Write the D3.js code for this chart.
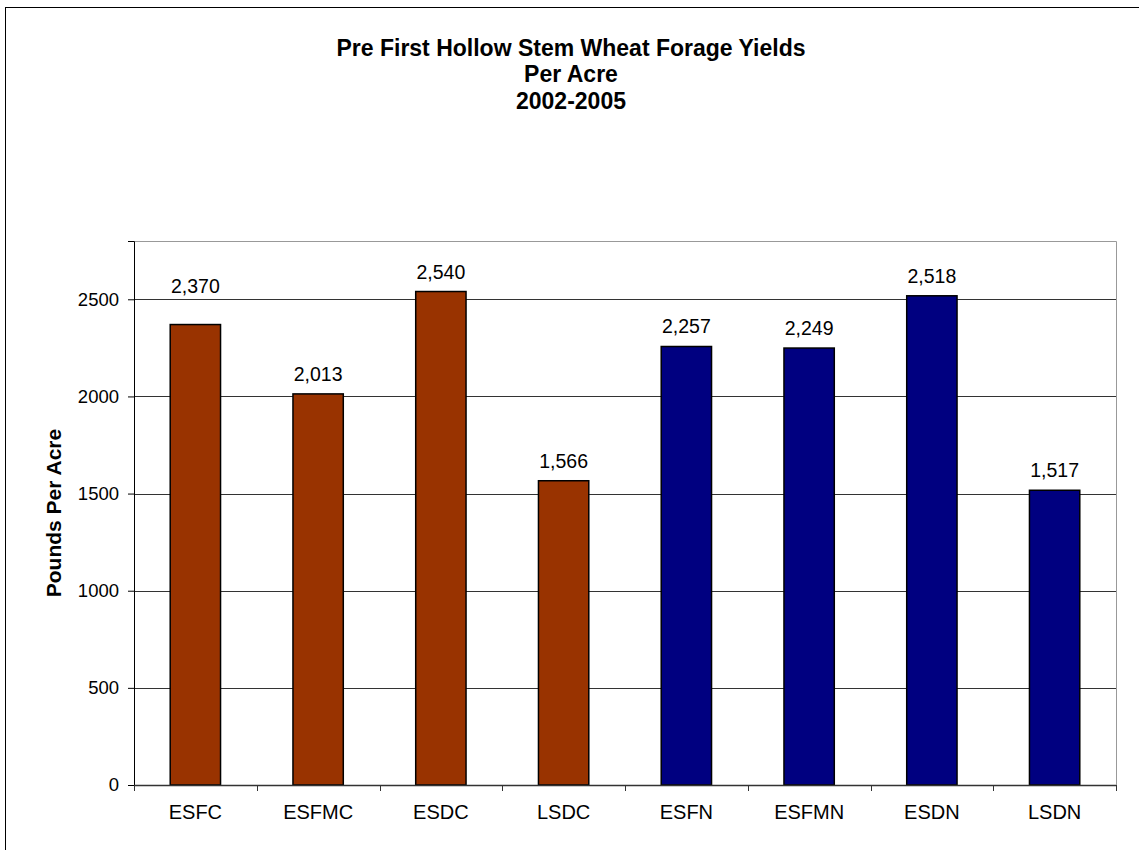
<!DOCTYPE html>
<html>
<head>
<meta charset="utf-8">
<script src="https://cdn.jsdelivr.net/npm/d3@7"></script>
<style>
  body { margin: 0; background: #fff; }
  text { font-family: "Liberation Sans", Arial, sans-serif; fill: #000; }
</style>
</head>
<body>
<div id="chart"></div>
<script>
// chart data
var categories = ["ESFC", "ESFMC", "ESDC", "LSDC", "ESFN", "ESFMN", "ESDN", "LSDN"];
var yields = [2370, 2013, 2540, 1566, 2257, 2249, 2518, 1517];
var barColors = ["#993300", "#993300", "#993300", "#993300", "#000080", "#000080", "#000080", "#000080"];
var yTicks = [0, 500, 1000, 1500, 2000, 2500];
var titleLines = ["Pre First Hollow Stem Wheat Forage Yields", "Per Acre", "2002-2005"];

var svgWidth = 1139;
var svgHeight = 850;

var margin = {
    top: 241,
    bottom: 65,
    left: 134,
    right: 23
};

var width = svgWidth - margin.left - margin.right;
var height = svgHeight - margin.top - margin.bottom;

// the ESFC label sits higher than the others in the original
var labelLift = { ESFC: 19 };

var svg = d3.select("#chart")
    .append("svg")
    .attr("width", svgWidth)
    .attr("height", svgHeight);

// outer chart border (right/bottom run off the page)
svg.append("rect")
    .attr("x", 5.5)
    .attr("y", 7.5)
    .attr("width", svgWidth)
    .attr("height", svgHeight)
    .attr("fill", "none")
    .attr("stroke", "#000")
    .attr("stroke-width", 1);

var title = svg.append("text")
    .attr("text-anchor", "middle")
    .style("font-size", "23px")
    .style("font-weight", "bold");

title.selectAll("tspan")
    .data(titleLines)
    .enter()
    .append("tspan")
    .attr("x", 571)
    .attr("y", (d, i) => 55.5 + i * 26.5)
    .text(d => d);

var chartGroup = svg.append("g")
    .attr("transform", `translate(${margin.left}, ${margin.top})`);

var xScale = d3.scaleBand()
    .domain(categories)
    .range([0, width]);

var yScale = d3.scaleLinear()
    .domain([0, 2800])
    .range([height, 0]);

// plot frame top/right
chartGroup.append("path")
    .attr("d", `M0.5,0.5H${width + 0.5}V${height}`)
    .attr("fill", "none")
    .attr("stroke", "#999")
    .attr("stroke-width", 1);

// gridlines
chartGroup.selectAll(".grid")
    .data(yTicks.filter(d => d > 0))
    .enter()
    .append("line")
    .attr("class", "grid")
    .attr("x1", 0)
    .attr("x2", width)
    .attr("y1", d => Math.round(yScale(d)) + 0.5)
    .attr("y2", d => Math.round(yScale(d)) + 0.5)
    .attr("stroke", "#333")
    .attr("stroke-width", 1);

var barWidth = xScale.bandwidth() * 0.41;

chartGroup.selectAll("rect.bar")
    .data(yields)
    .enter()
    .append("rect")
    .attr("class", "bar")
    .attr("x", (d, i) => xScale(categories[i]) + (xScale.bandwidth() - barWidth) / 2)
    .attr("y", d => yScale(d))
    .attr("width", barWidth)
    .attr("height", d => height - yScale(d))
    .attr("fill", (d, i) => barColors[i])
    .attr("stroke", "#000")
    .attr("stroke-width", 1.5);

chartGroup.selectAll(".valueLabel")
    .data(yields)
    .enter()
    .append("text")
    .attr("class", "valueLabel")
    .attr("x", (d, i) => xScale(categories[i]) + xScale.bandwidth() / 2)
    .attr("y", (d, i) => yScale(d) - 13 - (labelLift[categories[i]] || 0))
    .attr("text-anchor", "middle")
    .style("font-size", "19.5px")
    .text(d => d3.format(",")(d));

// y axis
var leftAxis = d3.axisLeft(yScale)
    .tickValues(yTicks)
    .tickSize(6)
    .tickPadding(9)
    .tickFormat(d3.format("d"));

var yAxis = chartGroup.append("g")
    .call(leftAxis);

yAxis.select(".domain").attr("stroke", "#000");
yAxis.selectAll(".tick line").attr("stroke", "#000");
yAxis.selectAll("text")
    .style("font-size", "18.5px")
    .style("font-family", "\"Liberation Sans\", Arial, sans-serif");

// x axis
var bottomAxis = d3.axisBottom(xScale)
    .tickSize(0)
    .tickPadding(20);

var xAxis = chartGroup.append("g")
    .attr("transform", `translate(0, ${height})`)
    .call(bottomAxis);

xAxis.select(".domain").remove();
xAxis.selectAll("text")
    .style("font-size", "20px")
    .style("font-family", "\"Liberation Sans\", Arial, sans-serif");

chartGroup.append("line")
    .attr("x1", 0)
    .attr("x2", width)
    .attr("y1", height + 0.5)
    .attr("y2", height + 0.5)
    .attr("stroke", "#333")
    .attr("stroke-width", 1.5);

// category separator ticks
chartGroup.selectAll(".xtick")
    .data(categories.concat(["end"]))
    .enter()
    .append("line")
    .attr("class", "xtick")
    .attr("x1", (d, i) => Math.round(i * xScale.step()) + 0.5)
    .attr("x2", (d, i) => Math.round(i * xScale.step()) + 0.5)
    .attr("y1", height)
    .attr("y2", height + 6)
    .attr("stroke", "#333");

// y axis title
svg.append("text")
    .attr("transform", `translate(61, ${margin.top + height / 2}) rotate(-90)`)
    .attr("text-anchor", "middle")
    .style("font-size", "21px")
    .style("font-weight", "bold")
    .text("Pounds Per Acre");
</script>
</body>
</html>
